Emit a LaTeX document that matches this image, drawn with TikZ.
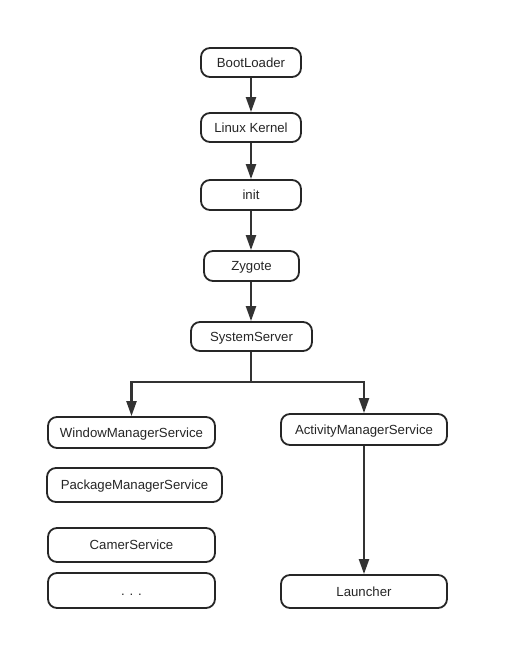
\documentclass[tikz,border=0pt]{standalone}
\usepackage{fontspec}
\setmainfont{Liberation Sans}
\usetikzlibrary{arrows.meta}
\begin{document}
\begin{tikzpicture}[x=1pt,y=-1pt,
  box/.style={draw=black!85,line width=1.8pt,rounded corners=9pt,fill=white,
    inner sep=0pt,text height=10.5pt,text depth=1.1pt,
    font=\fontsize{13.2}{15}\selectfont,text=black!85},
  conn/.style={draw=black!80,line width=2.2pt,-{Triangle[length=15pt,width=10pt]}},
  plain/.style={draw=black!80,line width=2.2pt}]
\useasboundingbox (0,0) rectangle (509,670);
\node[box,minimum width=100pt,minimum height=29pt] (boot) at (251,62.5) {BootLoader};
\node[box,minimum width=100pt,minimum height=29pt] (kern) at (251,127.5) {Linux Kernel};
\node[box,minimum width=100pt,minimum height=30pt] (init) at (251,195) {init};
\node[box,minimum width=95pt,minimum height=30pt] (zyg) at (251.5,266) {Zygote};
\node[box,minimum width=121pt,minimum height=29pt] (ss) at (251.5,336.5) {SystemServer};
\node[box,minimum width=167pt,minimum height=31pt] (wms) at (131.5,432.5) {WindowManagerService};
\node[box,minimum width=166pt,minimum height=31pt] (ams) at (364,429.5) {ActivityManagerService};
\node[box,minimum width=175pt,minimum height=34pt] (pms) at (134.5,485) {PackageManagerService};
\node[box,minimum width=167pt,minimum height=34pt] (cam) at (131.5,545) {CamerService};
\node[box,minimum width=167pt,minimum height=35pt] (dots) at (131.5,590.5) {. . .};
\node[box,minimum width=166pt,minimum height=33pt] (lau) at (364,591.5) {Launcher};
\coordinate (br) at (251,382);
\draw[conn] (boot) -- (kern);
\draw[conn] (kern) -- (init);
\draw[conn] (init) -- (zyg.north -| init.south);
\draw[conn] (zyg.south -| boot.south) -- (ss.north -| boot.south);
\draw[plain] (ss.south -| br) -- (br);
\draw[conn] (br) -| (wms.north);
\draw[conn] (br) -| (ams.north);
\draw[conn] (ams) -- (lau);
\end{tikzpicture}
\end{document}
